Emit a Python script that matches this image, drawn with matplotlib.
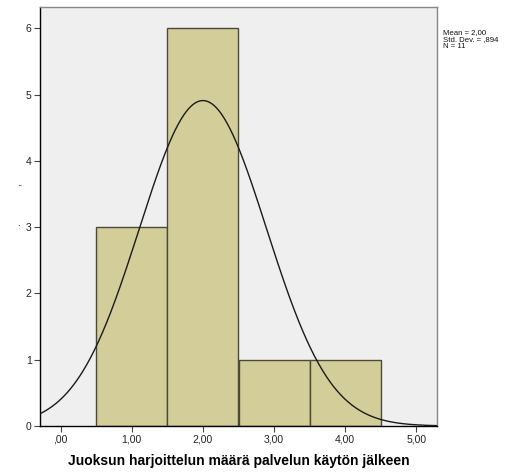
import numpy as np
import matplotlib
matplotlib.use("Agg")
import matplotlib.pyplot as plt

plt.rcParams['font.family'] = ['Liberation Sans', 'DejaVu Sans']

bin_centers = [1.0, 2.0, 3.0, 4.0]
counts = [3, 6, 1, 1]
bin_width = 1.0
mean_val = 2.00
std_val = 0.894
n_val = 11
x_ticks = [0, 1, 2, 3, 4, 5]
x_tick_labels = [",00", "1,00", "2,00", "3,00", "4,00", "5,00"]
y_ticks = [0, 1, 2, 3, 4, 5, 6]
x_label = "Juoksun harjoittelun määrä palvelun käytön jälkeen"
stats_text = "Mean = 2,00\nStd. Dev. = ,894\nN = 11"

fig = plt.figure(figsize=(5.26, 4.75), dpi=100)
ax = fig.add_axes([40/526, 1-426/475, (437-40)/526, (426-7)/475])
ax.set_facecolor('#EFEFEF')

ax.bar(bin_centers, counts, width=bin_width, color='#D3CE99', edgecolor='#4A4A3A', linewidth=1.0, zorder=2)

xs = np.linspace(-0.29, 5.29, 400)
ys = n_val * bin_width / (std_val * np.sqrt(2*np.pi)) * np.exp(-0.5*((xs-mean_val)/std_val)**2)
ax.plot(xs, ys, color='#1a1a1a', linewidth=1.0, zorder=3)

ax.set_xlim(-0.29, 5.29)
ax.set_ylim(0, 6.32)
ax.set_xticks(x_ticks)
ax.set_xticklabels(x_tick_labels)
ax.set_yticks(y_ticks)
ax.tick_params(axis='both', labelsize=7.5, color='#444444', length=4, width=0.8, labelcolor='#222222', pad=2)

for s in ['left', 'bottom']:
    ax.spines[s].set_color('black')
    ax.spines[s].set_linewidth(1.0)
for s in ['top', 'right']:
    ax.spines[s].set_color('#888888')
    ax.spines[s].set_linewidth(1.0)

ax.set_xlabel(x_label, fontsize=10, fontweight='bold', labelpad=7)

fig.text(443/526, 1-29/475, stats_text, fontsize=5.6, va='top', ha='left', linespacing=0.95, color='#111111')

fig.text(18/526, 1-185/475, ",", fontsize=7, ha='center', va='center', rotation=90)
fig.text(18/526, 1-223/475, ".", fontsize=7, ha='center', va='center')

fig.savefig("out.png", dpi=100)
